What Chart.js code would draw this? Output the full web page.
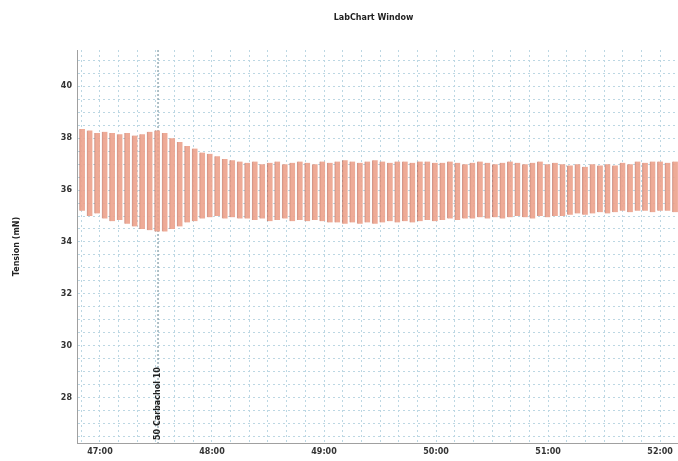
<!DOCTYPE html>
<html>
<head>
<meta charset="utf-8">
<script src="https://cdn.jsdelivr.net/npm/chart.js@4/dist/chart.umd.min.js"></script>
<style>
  html, body { margin: 0; padding: 0; background: #fff; }
  #wrap { width: 678px; height: 461px; position: relative; }
</style>
</head>
<body>
<div id="wrap"><canvas id="labChart"></canvas></div>
<script>
// valeurs (mN), un pic et un creux par cycle
const peaks = [
  38.35, 38.3, 38.2, 38.25, 38.2, 38.15, 38.2, 38.1, 38.15, 38.25,
  38.3, 38.2, 38.0, 37.85, 37.7, 37.6, 37.45, 37.4, 37.3, 37.2,
  37.15, 37.1, 37.05, 37.1, 37.0, 37.05, 37.1, 37.0, 37.05, 37.1,
  37.05, 37.0, 37.1, 37.05, 37.1, 37.15, 37.1, 37.05, 37.1, 37.15,
  37.1, 37.05, 37.1, 37.1, 37.05, 37.1, 37.1, 37.05, 37.05, 37.1,
  37.05, 37.0, 37.05, 37.1, 37.05, 37.0, 37.05, 37.1, 37.05, 37.0,
  37.05, 37.1, 37.0, 37.05, 37.0, 36.95, 37.0, 36.9, 37.0, 36.95,
  37.0, 36.95, 37.05, 37.0, 37.1, 37.05, 37.1, 37.1, 37.05, 37.1
];
const troughs = [
  35.2, 35.0, 35.1, 34.9, 34.8, 34.85, 34.7, 34.6, 34.5, 34.45,
  34.4, 34.4, 34.5, 34.6, 34.75, 34.8, 34.9, 34.95, 35.0, 34.9,
  34.95, 34.9, 34.9, 34.85, 34.9, 34.8, 34.85, 34.9, 34.8, 34.85,
  34.8, 34.85, 34.8, 34.75, 34.75, 34.7, 34.75, 34.7, 34.75, 34.7,
  34.75, 34.8, 34.75, 34.8, 34.75, 34.8, 34.85, 34.8, 34.85, 34.9,
  34.85, 34.9, 34.9, 34.95, 34.9, 34.95, 34.9, 34.95, 35.0, 34.95,
  34.9, 35.0, 34.95, 35.0, 35.0, 35.05, 35.1, 35.05, 35.1, 35.15,
  35.1, 35.15, 35.2, 35.15, 35.2, 35.2, 35.15, 35.2, 35.2, 35.15
];
// temps en secondes (47:00 = 2820 s)
const startTime = 2810.5;
const cyclePeriod = 4.02;
const xMin = 2807.7, xMax = 3129.6;
const yMin = 26.25, yMax = 41.4;
const markerTime = 2851.1;
const markerLabel = '50 Carbachol 10';

// chaque cycle = une contraction entre creux et pic
const cycles = peaks.map((p, i) => ({ x: startTime + i * cyclePeriod, y: [troughs[i], p] }));

function fmtTime(v) {
  const m = Math.floor(v / 60);
  const s = Math.round(v - m * 60);
  return m + ':' + String(s).padStart(2, '0');
}

const overlay = {
  id: 'overlay',
  beforeDatasetsDraw(chart) {
    const { ctx, chartArea, scales } = chart;
    const x = scales.x.getPixelForValue(markerTime);
    ctx.save();
    ctx.strokeStyle = '#7d99a3';
    ctx.lineWidth = 1.2;
    ctx.setLineDash([2, 2]);
    ctx.beginPath();
    ctx.moveTo(x, chartArea.top);
    ctx.lineTo(x, chartArea.bottom);
    ctx.stroke();
    ctx.restore();
  },
  afterDraw(chart) {
    const { ctx, chartArea, scales } = chart;
    ctx.save();
    ctx.fillStyle = '#222';
    ctx.font = 'bold 8px "DejaVu Sans"';
    ctx.textAlign = 'center';
    ctx.textBaseline = 'middle';
    ctx.fillText('LabChart Window', (chartArea.left + chartArea.right) / 2 - 4, 18);

    ctx.translate(17, (chartArea.top + chartArea.bottom) / 2);
    ctx.rotate(-Math.PI / 2);
    ctx.fillText('Tension (mN)', 0, 0);
    ctx.restore();

    // commentaire vertical
    const x = scales.x.getPixelForValue(markerTime);
    ctx.save();
    ctx.fillStyle = '#222';
    ctx.font = 'bold 8px "DejaVu Sans"';
    ctx.translate(x, chartArea.bottom - 3);
    ctx.rotate(-Math.PI / 2);
    ctx.textAlign = 'left';
    ctx.textBaseline = 'middle';
    ctx.fillText(markerLabel, 0, 0);
    ctx.restore();
  }
};

new Chart(document.getElementById('labChart'), {
  type: 'bar',
  data: {
    datasets: [{
      data: cycles,
      backgroundColor: 'rgba(236,162,140,0.9)',
      borderColor: 'rgba(175,80,60,0.6)',
      borderWidth: { left: 1, right: 0, top: 0, bottom: 0 },
      borderSkipped: false,
      barThickness: 5.5
    }]
  },
  options: {
    responsive: true,
    maintainAspectRatio: false,
    animation: false,
    layout: { padding: { top: 50, right: 0, bottom: 0, left: 0 } },
    plugins: { legend: { display: false }, tooltip: { enabled: false } },
    scales: {
      x: {
        type: 'linear',
        offset: false,
        min: xMin,
        max: xMax,
        afterFit: s => { s.height = 18; },
        border: { display: true, color: '#a0a0a0', width: 1, dash: [2, 3] },
        grid: { color: '#bcd7e3', lineWidth: 1, drawTicks: false, offset: false },
        ticks: {
          stepSize: 10,
          includeBounds: false,
          autoSkip: false,
          maxRotation: 0,
          padding: 4,
          color: '#333',
          font: { size: 8, family: 'DejaVu Sans', weight: 'bold' },
          callback: v => (Math.round(v) % 60 === 0 ? fmtTime(v) : '')
        }
      },
      y: {
        min: yMin,
        max: yMax,
        afterFit: s => { s.width = 77; },
        border: { display: true, color: '#a0a0a0', width: 1, dash: [2, 3] },
        grid: { color: '#bcd7e3', lineWidth: 1, drawTicks: false },
        ticks: {
          stepSize: 0.5,
          includeBounds: false,
          autoSkip: false,
          padding: 5,
          color: '#333',
          font: { size: 8, family: 'DejaVu Sans', weight: 'bold' },
          callback: v => (Math.abs(v - Math.round(v)) < 1e-6 && Math.round(v) % 2 === 0 ? String(Math.round(v)) : '')
        }
      }
    }
  },
  plugins: [overlay]
});
</script>
</body>
</html>
